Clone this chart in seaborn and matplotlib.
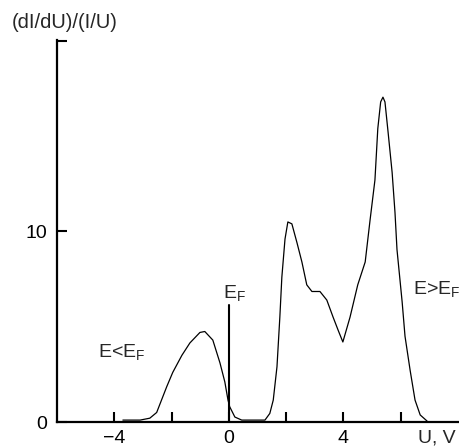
import numpy as np
import pandas as pd
import matplotlib
matplotlib.use("Agg")
import matplotlib.pyplot as plt
import matplotlib.transforms as mtransforms
import seaborn as sns

# spectrum
u_volts = [-3.7, -3.1, -2.76, -2.52, -2.17, -1.96, -1.64, -1.36, -1.01, -0.84,
           -0.56, -0.31, -0.14, -0.03, 0.03, 0.21, 0.45, 1.26, 1.43, 1.55,
           1.68, 1.78, 1.85, 1.96, 2.06, 2.2, 2.38, 2.55, 2.72, 2.9,
           3.18, 3.42, 3.64, 3.82, 3.98, 4.23, 4.5, 4.76, 4.93, 5.1,
           5.2, 5.3, 5.38, 5.45, 5.56, 5.7, 5.8, 5.87, 6.05, 6.15,
           6.33, 6.5, 6.68, 6.92]
didu_norm = [0.1, 0.1, 0.2, 0.5, 1.85, 2.6, 3.5, 4.15, 4.7, 4.75,
             4.3, 3.1, 2.1, 1.15, 0.8, 0.26, 0.1, 0.1, 0.45, 1.15,
             2.9, 5.5, 7.6, 9.6, 10.5, 10.4, 9.4, 8.4, 7.2, 6.85,
             6.85, 6.4, 5.5, 4.8, 4.2, 5.5, 7.2, 8.4, 10.6, 12.7,
             15.4, 16.8, 17.05, 16.8, 15.2, 13.1, 11.0, 9.05, 6.3, 4.5,
             2.7, 1.15, 0.37, 0.05]

x_major = [-4, 0, 4]
x_minor = [-2, 2, 6]
y_ticks = [0, 10, 20]
y_labels = ["0", "10", ""]
fermi_height = 6.15

sns.set_style("white")
plt.rcParams['font.family'] = ['Liberation Sans', 'DejaVu Sans']

df = pd.DataFrame({"U": u_volts, "S": didu_norm})

fig = plt.figure(figsize=(4.59, 4.48), dpi=100)
ax = fig.add_axes([57 / 459, 26 / 448, 401 / 459, 382 / 448])

sns.lineplot(data=df, x="U", y="S", estimator=None, sort=False,
             color="black", linewidth=0.9, ax=ax)

# Fermi level marker
ax.plot([0, 0], [0, fermi_height], color="black", linewidth=1.5)

ax.set_xlim(-6, 8)
ax.set_ylim(0, 20.05)
ax.set_xlabel("")
ax.set_ylabel("")

for side in ["top", "right"]:
    ax.spines[side].set_visible(False)
for side in ["left", "bottom"]:
    ax.spines[side].set_linewidth(1.6)
    ax.spines[side].set_color("black")

ax.set_xticks(x_major)
ax.set_xticklabels([f"{v}".replace("-", "\u2212") for v in x_major])
ax.set_xticks(x_minor, minor=True)
ax.set_yticks(y_ticks)
ax.set_yticklabels(y_labels)
ax.tick_params(axis="both", which="both", direction="in", length=7,
               width=1.5, color="black", labelsize=14, labelcolor="black",
               bottom=True, left=True, top=False, right=False)
ax.tick_params(axis="x", which="both", pad=6)
ax.tick_params(axis="y", pad=7)

# axis captions
fig.text(12 / 459, 1 - 22 / 448, "(dI/dU)/(I/U)", fontsize=14.5,
         ha="left", va="center")
trans = mtransforms.blended_transform_factory(ax.transData, ax.transAxes)
ax.text(7.27, -0.042, "U, V", transform=trans, fontsize=14,
        ha="center", va="center", clip_on=False)

ax.text(-0.2, 6.45, r"E$_\mathregular{F}$", fontsize=14, ha="left", va="baseline")
ax.text(-4.58, 3.4, r"E<E$_\mathregular{F}$", fontsize=14, ha="left", va="baseline")
ax.text(6.43, 6.7, r"E>E$_\mathregular{F}$", fontsize=14, ha="left", va="baseline",
        clip_on=False)

fig.savefig("out.png", dpi=100)
